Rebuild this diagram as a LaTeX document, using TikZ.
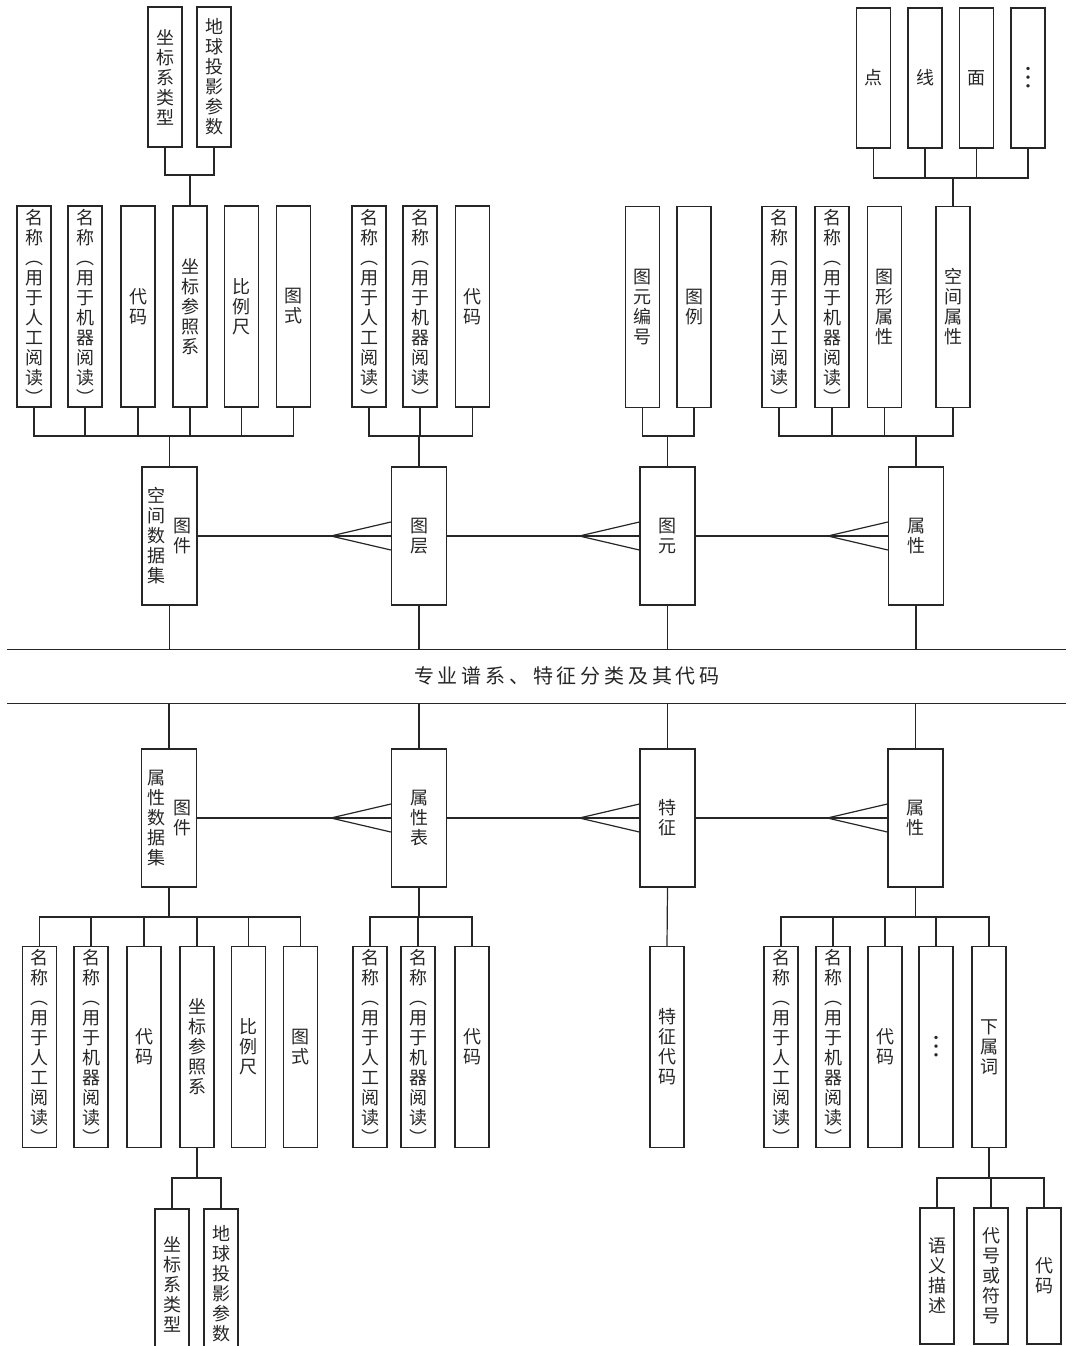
\documentclass[tikz,border=0pt]{standalone}
\usepackage{fontspec}
\setmainfont{Noto Sans CJK SC}
\newfontfamily\bandfont[LetterSpace=19]{Noto Sans CJK SC}
\usepackage{tikz}
\usetikzlibrary{positioning}
% one character per line
\makeatletter
\newcommand{\vtxt}[1]{\vbox{\@tfor\vtxtc:=#1\do{\hbox to 1em{\hss\vtxtc\hss}}}}
\makeatother
\newcommand{\vdotsbig}{{\fontsize{26}{20}\selectfont ︙}}
\tikzset{
  leafbox/.style={draw=black!85, line width=1.3pt, inner sep=0pt,
    minimum width=34pt, minimum height=201pt,
    font=\fontsize{18}{20}\selectfont, text=black!85},
  subleaf/.style={leafbox, minimum height=140pt},
  entbox/.style={leafbox, minimum width=55pt, minimum height=138pt},
  wire/.style={draw=black!85, line width=1.2pt},
}

\begin{document}
\begin{tikzpicture}[x=1pt,y=-1pt]
  \useasboundingbox (0,0) rectangle (1072,1346);
  \clip (0,0) rectangle (1072,1346);
  % bus levels
  \coordinate (tsubL) at (0,175);
  \coordinate (tsubR) at (0,178);
  \coordinate (tbus) at (0,436);
  \coordinate (bbus) at (0,917);
  \coordinate (bsub) at (0,1178);

  % middle band
  \node[minimum width=1059pt, minimum height=53pt, inner sep=0pt] (band) at (536.5,676.5) {};
  \draw[wire] (band.north west) -- (band.north east);
  \draw[wire] (band.south west) -- (band.south east);
  \node[font=\bandfont\fontsize{20}{22}\selectfont, text=black!85] (bandtxt) at (567,676)
    {专业谱系、特征分类及其代码};

  % upper entities
  \node[entbox] (sjj) at (169.5,536)
    {$\vcenter{\vtxt{空间数据集}}$\hspace{8pt}$\vcenter{\vtxt{图件}}$};
  \node[entbox] (tc) at (419,536) {\vtxt{图层}};
  \node[entbox] (ty) at (667.5,536) {\vtxt{图元}};
  \node[entbox] (sx) at (916,536) {\vtxt{属性}};

  % lower entities
  \node[entbox] (ssj) at (169,818)
    {$\vcenter{\vtxt{属性数据集}}$\hspace{8pt}$\vcenter{\vtxt{图件}}$};
  \node[entbox] (sxb) at (419,818) {\vtxt{属性表}};
  \node[entbox] (tz) at (667.5,818) {\vtxt{特征}};
  \node[entbox] (sx2) at (915.5,818) {\vtxt{属性}};

  % upper leaves
  \node[leafbox] (tlA) at (34,306.5) {\vtxt{名称︵用于人工阅读︶}};
  \node[leafbox] (tlB) at (85,306.5) {\vtxt{名称︵用于机器阅读︶}};
  \node[leafbox] (tlC) at (138,306.5) {\vtxt{代码}};
  \node[leafbox] (tlD) at (190,306.5) {\vtxt{坐标参照系}};
  \node[leafbox] (tlE) at (241.5,306.5) {\vtxt{比例尺}};
  \node[leafbox] (tlF) at (293.5,306.5) {\vtxt{图式}};
  \node[subleaf] (tlDa) at (165,77) {\vtxt{坐标系类型}};
  \node[subleaf] (tlDb) at (214,77) {\vtxt{地球投影参数}};

  \node[leafbox] (tmA) at (369,306.5) {\vtxt{名称︵用于人工阅读︶}};
  \node[leafbox] (tmB) at (420,306.5) {\vtxt{名称︵用于机器阅读︶}};
  \node[leafbox] (tmC) at (472.5,306.5) {\vtxt{代码}};

  \node[leafbox] (tyA) at (642.5,307) {\vtxt{图元编号}};
  \node[leafbox] (tyB) at (694,307) {\vtxt{图例}};

  \node[leafbox] (sxA) at (779,307) {\vtxt{名称︵用于人工阅读︶}};
  \node[leafbox] (sxB) at (832,307) {\vtxt{名称︵用于机器阅读︶}};
  \node[leafbox] (sxC) at (884.5,307) {\vtxt{图形属性}};
  \node[leafbox] (sxD) at (953,307) {\vtxt{空间属性}};
  \node[subleaf] (sxDa) at (873.5,78) {\vtxt{点}};
  \node[subleaf] (sxDb) at (925,78) {\vtxt{线}};
  \node[subleaf] (sxDc) at (976.5,78) {\vtxt{面}};
  \node[subleaf] (sxDd) at (1028,78) {\vdotsbig};

  % lower leaves
  \node[leafbox] (blA) at (39.5,1047) {\vtxt{名称︵用于人工阅读︶}};
  \node[leafbox] (blB) at (91,1047) {\vtxt{名称︵用于机器阅读︶}};
  \node[leafbox] (blC) at (144,1047) {\vtxt{代码}};
  \node[leafbox] (blD) at (197,1047) {\vtxt{坐标参照系}};
  \node[leafbox] (blE) at (248.5,1047) {\vtxt{比例尺}};
  \node[leafbox] (blF) at (300.5,1047) {\vtxt{图式}};
  \node[subleaf, minimum height=150pt] (blDa) at (172,1284) {\vtxt{坐标系类型}};
  \node[subleaf, minimum height=150pt] (blDb) at (221,1284) {\vtxt{地球投影参数}};

  \node[leafbox] (bmA) at (370,1047) {\vtxt{名称︵用于人工阅读︶}};
  \node[leafbox] (bmB) at (418,1047) {\vtxt{名称︵用于机器阅读︶}};
  \node[leafbox] (bmC) at (472,1047) {\vtxt{代码}};

  \node[leafbox] (tzA) at (667,1047) {\vtxt{特征代码}};

  \node[leafbox] (brA) at (781,1047) {\vtxt{名称︵用于人工阅读︶}};
  \node[leafbox] (brB) at (833,1047) {\vtxt{名称︵用于机器阅读︶}};
  \node[leafbox] (brC) at (885,1047) {\vtxt{代码}};
  \node[leafbox] (brD) at (936,1047) {\vdotsbig};
  \node[leafbox] (brE) at (989,1047) {\vtxt{下属词}};
  \node[subleaf, minimum height=136pt] (brEa) at (937,1276) {\vtxt{语义描述}};
  \node[subleaf, minimum height=136pt] (brEb) at (991,1276) {\vtxt{代号或符号}};
  \node[subleaf, minimum height=136pt] (brEc) at (1044,1276) {\vtxt{代码}};

  % links to the band
  \foreach \e in {sjj,tc,ty,sx}
    \draw[wire] (\e.south) -- (\e.south |- band.north);
  \foreach \e in {ssj,sxb,tz,sx2}
    \draw[wire] (\e.north) -- (\e.north |- band.south);

  % one-to-many links
  \draw[wire] (sjj.east) -- (tc.west);
  \draw[wire] (tc.east) -- (ty.west);
  \draw[wire] (ty.east) -- (sx.west);
  \draw[wire] (ssj.east) -- (sxb.west);
  \draw[wire] (sxb.east) -- (tz.west);
  \draw[wire] (tz.east) -- (sx2.west);
  \foreach \e in {tc,ty,sx,sxb,tz,sx2} {
    \draw[wire] ([xshift=-60pt]\e.west) -- ([yshift=14pt]\e.west);
    \draw[wire] ([xshift=-60pt]\e.west) -- ([yshift=-14pt]\e.west);
  }

  % upper trees
  \draw[wire] (sjj.north) -- (sjj.north |- tbus);
  \foreach \n in {tlA,tlB,tlC,tlD,tlE,tlF}
    \draw[wire] (sjj.north |- tbus) -| (\n.south);
  \draw[wire] (tlD.north) -- (tlD.north |- tsubL);
  \foreach \n in {tlDa,tlDb}
    \draw[wire] (tlD.north |- tsubL) -| (\n.south);
  \draw[wire] (tc.north) -- (tc.north |- tbus);
  \foreach \n in {tmA,tmB,tmC}
    \draw[wire] (tc.north |- tbus) -| (\n.south);
  \draw[wire] (ty.north) -- (ty.north |- tbus);
  \foreach \n in {tyA,tyB}
    \draw[wire] (ty.north |- tbus) -| (\n.south);
  \draw[wire] (sx.north) -- (sx.north |- tbus);
  \foreach \n in {sxA,sxB,sxC,sxD}
    \draw[wire] (sx.north |- tbus) -| (\n.south);
  \draw[wire] (sxD.north) -- (sxD.north |- tsubR);
  \foreach \n in {sxDa,sxDb,sxDc,sxDd}
    \draw[wire] (sxD.north |- tsubR) -| (\n.south);

  % lower trees
  \draw[wire] (ssj.south) -- (ssj.south |- bbus);
  \foreach \n in {blA,blB,blC,blD,blE,blF}
    \draw[wire] (ssj.south |- bbus) -| (\n.north);
  \draw[wire] (blD.south) -- (blD.south |- bsub);
  \foreach \n in {blDa,blDb}
    \draw[wire] (blD.south |- bsub) -| (\n.north);
  \draw[wire] (sxb.south) -- (sxb.south |- bbus);
  \foreach \n in {bmA,bmB,bmC}
    \draw[wire] (sxb.south |- bbus) -| (\n.north);
  \draw[wire] (tz.south) -- (tzA.north);
  \draw[wire] (sx2.south) -- (sx2.south |- bbus);
  \foreach \n in {brA,brB,brC,brD,brE}
    \draw[wire] (sx2.south |- bbus) -| (\n.north);
  \draw[wire] (brE.south) -- (brE.south |- bsub);
  \foreach \n in {brEa,brEb,brEc}
    \draw[wire] (brE.south |- bsub) -| (\n.north);
\end{tikzpicture}
\end{document}
